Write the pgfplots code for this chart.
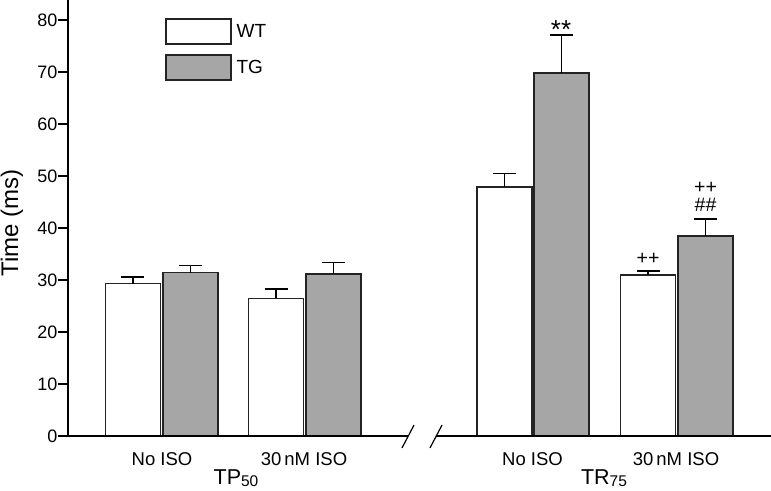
\documentclass[border=0pt]{standalone}
\usepackage{fontspec}
\setmainfont{Liberation Sans}
\usepackage{pgfplots}
\pgfplotsset{compat=1.18}
\definecolor{tgfill}{RGB}{166,166,166}
\definecolor{edge}{RGB}{35,35,35}
\newcommand{\sub}[1]{{\fontsize{15.5}{16}\selectfont\raisebox{-2pt}{#1}}}
\begin{document}
\begin{tikzpicture}
\begin{axis}[
  name=ax,
  scale only axis,
  width=703pt, height=436pt,
  xmin=68, xmax=771, ymin=0, ymax=83.85,
  axis lines*=left,
  x axis line style={draw=none},
  y axis line style={line width=1.6pt, black, -},
  ytick={0,10,...,80},
  xtick={162,304,532.5,676},
  xticklabels={No ISO,30\,nM ISO,No ISO,30\,nM ISO},
  x tick style={draw=none},
  y tick style={line width=1.6pt, black},
  tick align=outside,
  major tick length=10pt,
  /pgf/number format/assume math mode=true,
  yticklabel style={font=\fontsize{18}{20}\selectfont, xshift=3pt},
  xticklabel style={font=\fontsize{18.5}{20}\selectfont, yshift=-3pt},
  clip=false,
  ybar, bar width=55, bar shift=0pt,
  legend image code/.code={\draw[#1] (0pt,-12.5pt) rectangle (65pt,12.5pt);},
  legend cell align=left,
  legend style={at={(axis cs:162,80.77)}, anchor=north west, draw=none, fill=none,
    font=\fontsize{19}{20}\selectfont, row sep=9.5pt,
    nodes={inner xsep=5pt, inner ysep=0pt}},
]
\addplot[fill=white, draw=edge, line width=1.4pt,
  error bars/.cd, y dir=plus, y explicit,
  error bar style={line width=1.5pt, black},
  error mark options={rotate=90, mark size=11.5pt, line width=1.5pt, black}]
  coordinates {(133,29.3) +- (0,1.3) (276,26.5) +- (0,1.8) (504.5,47.9) +- (0,2.6) (648,31.0) +- (0,0.7)};
\addplot[fill=tgfill, draw=edge, line width=1.4pt,
  error bars/.cd, y dir=plus, y explicit,
  error bar style={line width=1.5pt, black},
  error mark options={rotate=90, mark size=11.5pt, line width=1.5pt, black}]
  coordinates {(190.5,31.4) +- (0,1.35) (333.5,31.15) +- (0,2.25) (561.5,69.8) +- (0,7.3) (705.5,38.5) +- (0,3.2)};
\legend{WT,TG}
\draw[line width=1.6pt] (axis cs:68,0) -- (axis cs:408,0);
\draw[line width=1.6pt] (axis cs:436,0) -- (axis cs:771,0);
\draw[line width=1.2pt] (axis cs:402,-2.3) -- (axis cs:414,2.1);
\draw[line width=1.2pt] (axis cs:430,-2.3) -- (axis cs:442,2.1);
\node[font=\fontsize{26}{26}\selectfont, inner sep=0pt] at (axis cs:561,78.2) {**};
\node[font=\fontsize{19.5}{20}\selectfont, inner sep=0pt] at (axis cs:648,34.0) {++};
\node[font=\fontsize{19.5}{20}\selectfont, inner sep=0pt] at (axis cs:705.5,47.8) {++};
\node[font=\fontsize{19.5}{20}\selectfont, inner sep=0pt] at (axis cs:705.5,44.5) {\#\#};
\node[font=\fontsize{21.5}{24}\selectfont, anchor=base, inner sep=0pt] at (axis cs:236,-9.3) {TP\sub{50}};
\node[font=\fontsize{21.5}{24}\selectfont, anchor=base, inner sep=0pt] at (axis cs:604,-9.3) {TR\sub{75}};
\node[rotate=90, font=\fontsize{24}{24}\selectfont] at (axis cs:12,41) {Time (ms)};
\end{axis}
\pgfresetboundingbox
\path[use as bounding box] ([xshift=-68pt,yshift=-54pt]ax.south west) rectangle (ax.north east);
\end{tikzpicture}
\end{document}
